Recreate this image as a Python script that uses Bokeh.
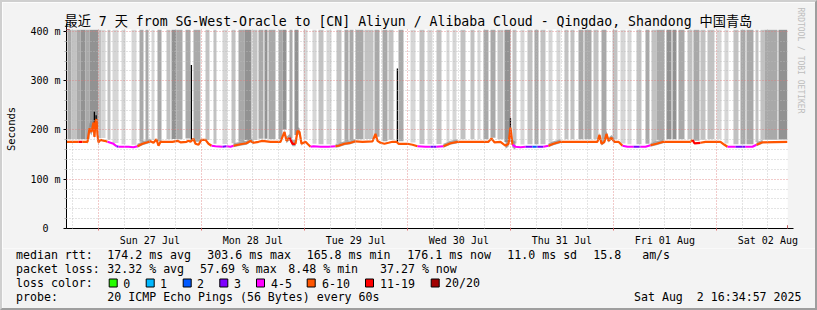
import math
import numpy as np
from bokeh.plotting import figure
from bokeh.models import FixedTicker, Arrow, NormalHead, Title, Range1d
from bokeh.layouts import column
from bokeh.core.properties import value
from bokeh.embed import file_html
from bokeh.resources import INLINE

# ---------------- data ----------------
TITLE = "最近 7 天 from SG-West-Oracle to [CN] Aliyun / Alibaba Cloud - Qingdao, Shandong 中国青岛"
WINDOW_HOURS = 168.0          # 7 days, hours since Sat Jul 26 16:35
FIRST_MIDNIGHT = 7.42         # Sun 27 Jul 00:00 in hours since window start
DAY_LABELS = ["Sun 27 Jul", "Mon 28 Jul", "Tue 29 Jul", "Wed 30 Jul",
              "Thu 31 Jul", "Fri 01 Aug", "Sat 02 Aug"]
Y_TICKS = [0, 100, 200, 300, 400]
Y_TICK_LABELS = ["0  ", "100 m", "200 m", "300 m", "400 m"]
Y_MAX = 404

# median rtt (ms) with loss count (of 20 pings); time = hours since window start
med_t = [0, 2.8, 3.73, 4.89, 5.36, 5.83, 6.29, 6.52, 6.76, 6.99,
         7.22, 7.46, 7.92, 8.85, 9.55, 10.25, 10.95, 11.65, 12.12, 14.45,
         15.61, 16.54, 17.71, 18.87, 19.57, 20.27, 20.97, 21.44, 21.9, 24.7,
         25.86, 26.56, 27.96, 28.43, 28.89, 29.59, 30.06, 30.76, 31.46, 32.39,
         33.09, 33.79, 34.72, 36.35, 37.28, 38.21, 38.91, 40.54, 41.94, 42.87,
         43.57, 44.74, 45.67, 47.53, 49.86, 50.79, 51.26, 51.96, 52.66, 53.36,
         53.82, 54.29, 54.76, 55.69, 56.15, 56.85, 57.55, 59.18, 61.05, 62.68,
         63.38, 64.77, 66.17, 67.34, 68.97, 71.3, 72.0, 72.46, 73.16, 74.09,
         75.03, 75.96, 76.89, 77.36, 78.29, 79.45, 80.62, 81.78, 83.65, 84.81,
         86.21, 87.84, 89.47, 91.1, 94.13, 98.33, 99.03, 99.72, 101.12, 102.29,
         102.99, 103.45, 103.92, 104.62, 105.78, 106.95, 108.58, 109.74, 111.14, 112.31,
         113.47, 115.1, 118.6, 122.09, 123.72, 124.19, 124.66, 125.35, 125.82, 126.29,
         126.99, 127.68, 128.62, 129.55, 130.71, 132.11, 133.74, 134.91, 136.07, 137.47,
         139.1, 145.39, 145.86, 146.32, 147.72, 148.89, 152.38, 153.31, 154.01, 155.88,
         158.21, 159.84, 160.77, 162.17, 168.0]
med_ms = [176, 176, 176, 176, 203, 196, 215, 186, 218, 222,
          190, 175, 180, 178, 176, 174, 172, 167, 166, 166,
          165, 167, 172, 175, 177, 174, 181, 168, 176, 176,
          178, 175, 176, 178, 176, 182, 172, 170, 180, 180,
          172, 168, 167, 166, 167, 166, 168, 171, 173, 178,
          174, 176, 178, 176, 176, 196, 178, 184, 172, 172,
          198, 196, 172, 176, 172, 166, 167, 166, 166, 167,
          168, 172, 174, 177, 176, 177, 192, 178, 174, 172,
          174, 176, 176, 172, 172, 172, 170, 167, 166, 166,
          166, 167, 173, 176, 176, 176, 183, 175, 176, 168,
          172, 205, 170, 166, 165, 166, 166, 166, 166, 168,
          172, 176, 176, 176, 176, 190, 172, 176, 192, 178,
          184, 176, 176, 168, 166, 166, 166, 166, 169, 172,
          176, 176, 180, 173, 174, 176, 176, 170, 166, 166,
          166, 166, 170, 175, 176]
med_loss = [7, 12, 7, 7, 7, 7, 7, 7, 7, 7,
            7, 7, 7, 7, 5, 5, 5, 3, 5, 5,
            5, 7, 7, 7, 7, 7, 7, 7, 7, 7,
            7, 7, 7, 7, 7, 7, 7, 7, 7, 7,
            7, 5, 5, 3, 5, 5, 7, 7, 7, 7,
            7, 7, 7, 7, 7, 7, 7, 12, 12, 7,
            7, 7, 7, 7, 7, 5, 5, 5, 5, 7,
            7, 7, 7, 7, 7, 7, 7, 7, 7, 7,
            7, 7, 7, 7, 7, 7, 7, 5, 5, 3,
            5, 7, 7, 7, 7, 7, 7, 7, 7, 7,
            7, 7, 5, 5, 5, 3, 2, 3, 5, 7,
            7, 7, 7, 7, 7, 7, 7, 7, 7, 7,
            7, 7, 7, 5, 5, 3, 5, 5, 7, 7,
            7, 7, 12, 12, 7, 7, 7, 7, 5, 3,
            5, 5, 7, 7, 7]

# dense rtt spikes (black smoke): time, top ms
spike_t = [6.5, 6.9, 29.1, 77.1, 103.45]
spike_top = [237, 230, 332, 325, 224]

# dark smoke hugging the median: start, end (hours), half spread (ms)
band_start = [4.9, 16.5, 38.9, 50.8, 62.7, 87.8, 102.3, 112.3, 124.2, 136.1, 160.8]
band_end = [7.5, 19.6, 43.6, 54.8, 67.3, 91.1, 104.6, 115.1, 127.7, 139.1, 162.2]
band_spread = [12, 5, 5, 8, 5, 5, 10, 5, 6, 5, 5]

# smoke stripes reaching the top of the graph: start, end (hours), density level 1..4
smoke_start = [0.23, 1.17, 2.33, 3.26, 4.43, 5.36, 7.46, 8.16, 9.55, 10.72,
               12.82, 15.15, 17.01, 18.41, 19.81, 21.2, 23.3, 24.47, 25.63, 27.73,
               29.59, 32.39, 34.25, 36.35, 38.45, 40.08, 41.47, 43.34, 44.74, 46.13,
               47.07, 49.4, 50.33, 51.96, 53.12, 55.22, 57.32, 58.72, 60.58, 62.91,
               64.77, 65.94, 67.34, 69.43, 71.76, 73.63, 75.03, 77.36, 80.15, 82.25,
               84.11, 86.21, 88.54, 89.94, 91.8, 94.13, 95.76, 97.16, 98.79, 100.42,
               102.05, 103.92, 105.78, 107.41, 109.04, 110.44, 112.31, 114.17, 116.03, 117.43,
               119.3, 120.69, 122.79, 124.66, 127.22, 129.08, 130.71, 132.81, 134.91, 136.31,
               137.47, 139.8, 141.2, 142.6, 144.7, 146.09, 147.72, 149.35, 151.45, 153.31,
               155.41, 157.04, 158.44, 160.54, 161.7, 162.63, 165.9]
smoke_end = [1.17, 2.33, 3.26, 4.43, 5.36, 7.46, 8.16, 9.09, 10.25, 12.12,
             13.75, 16.31, 17.94, 19.11, 20.5, 22.14, 24.23, 25.63, 27.03, 28.89,
             31.22, 33.32, 34.95, 37.51, 39.38, 41.47, 43.1, 44.5, 45.9, 46.83,
             48.7, 50.33, 51.26, 52.66, 54.06, 56.15, 58.25, 59.88, 61.75, 64.08,
             65.71, 66.87, 69.2, 71.53, 72.93, 74.79, 76.19, 78.52, 81.32, 83.41,
             85.28, 87.38, 89.24, 90.87, 92.97, 95.06, 96.46, 98.33, 99.96, 101.82,
             103.45, 104.85, 106.71, 108.58, 109.98, 111.61, 113.24, 115.1, 116.97, 118.36,
             120.46, 122.33, 123.96, 125.82, 128.38, 130.25, 131.65, 133.98, 135.84, 137.47,
             139.33, 140.97, 142.13, 144.0, 145.86, 147.49, 148.89, 150.98, 152.62, 154.25,
             156.58, 158.21, 160.07, 161.24, 162.63, 165.66, 168.0]
smoke_level = [3, 2, 3, 4, 3, 4, 2, 1, 2, 1,
               1, 1, 3, 3, 1, 3, 2, 4, 3, 3,
               3, 2, 2, 1, 2, 3, 4, 2, 3, 4,
               3, 3, 4, 3, 4, 1, 1, 2, 1, 2,
               3, 3, 3, 2, 3, 3, 2, 3, 1, 2,
               1, 2, 1, 1, 2, 2, 1, 3, 3, 2,
               4, 2, 1, 2, 3, 2, 1, 1, 2, 2,
               3, 3, 2, 3, 2, 1, 1, 2, 3, 2,
               3, 4, 4, 3, 2, 3, 2, 2, 1, 1,
               2, 3, 3, 2, 2, 3, 4]

# legend texts
LOSS_BINS = ["0", "1", "2", "3", "4-5", "6-10", "11-19", "20/20"]
LOSS_COLORS = ["#26ff00", "#00b8ff", "#0059ff", "#7e00ff", "#ff00ff", "#ff5500", "#ff0000", "#a10000"]
RTT_STATS = ["median rtt:", "174.2 ms avg", "303.6 ms max", "165.8 ms min", "176.1 ms now", "11.0 ms sd", "15.8   am/s"]
LOSS_STATS = ["packet loss:", "32.32 % avg", "57.69 % max", "8.48 % min", "37.27 % now"]
PROBE = ["probe:", "20 ICMP Echo Pings (56 Bytes) every 60s"]
STAMP = "Sat Aug  2 16:34:57 2025"

# ---------------- layout / style ----------------
EDGE = 2                       # 3-d frame around the whole image
W = 817 - 2 * EDGE
H_MAIN, H_LEG = 246, 60
FL, FR, FT, FB = 64, 28, 27, 19
FW = W - FL - FR
BG = "#f3f3f3"
MONO = "DejaVu Sans Mono, Noto Sans CJK SC"
SHADES = {1: "#d6d6d6", 2: "#c2c2c2", 3: "#a9a9a9", 4: "#929292"}
NBSP = "\u00a0"


def keep_spaces(s):
    # svg collapses runs of blanks; keep the monospace spacing
    return s.replace(" ", NBSP)


def loss_color(n):
    if n == 0:
        return LOSS_COLORS[0]
    if n <= 3:
        return LOSS_COLORS[n]
    if n <= 5:
        return LOSS_COLORS[4]
    if n <= 10:
        return LOSS_COLORS[5]
    if n <= 19:
        return LOSS_COLORS[6]
    return LOSS_COLORS[7]


p = figure(width=W, height=H_MAIN, x_range=(0, WINDOW_HOURS), y_range=(0, Y_MAX),
           output_backend="svg", toolbar_location=None,
           min_border_left=FL, min_border_right=FR, min_border_top=FT, min_border_bottom=FB,
           background_fill_color="white", border_fill_color=BG, outline_line_color=None)

XS = WINDOW_HOURS / FW
YS = Y_MAX / (H_MAIN - FT - FB)

# smoke stripes
s_start = np.array(smoke_start)
s_end = np.array(smoke_end)
centers = (s_start + s_end) / 2
bottoms = np.interp(centers, med_t, med_ms) + 5
p.quad(left=s_start, right=s_end, bottom=bottoms, top=Y_MAX,
       fill_color=[SHADES[l] for l in smoke_level], line_color=None)

# dark smoke around the median
mt = np.array(med_t)
mm = np.array(med_ms, dtype=float)
for b0, b1, sp in zip(band_start, band_end, band_spread):
    sel = (mt > b0) & (mt < b1)
    bx = np.concatenate([[b0], mt[sel], [b1]])
    by = np.concatenate([[np.interp(b0, mt, mm)], mm[sel], [np.interp(b1, mt, mm)]])
    p.varea(x=bx, y1=by - sp * 0.6, y2=by + sp, fill_color="#8c8c8c", fill_alpha=0.75)

# black spikes
sp_base = np.interp(spike_t, med_t, med_ms)
p.segment(x0=spike_t, y0=sp_base, x1=spike_t, y1=spike_top, line_color="black", line_width=1.3)

# median line coloured by loss
xs, ys, cs = [], [], []
i = 0
n = len(med_t)
while i < n - 1:
    c = loss_color(med_loss[i])
    j = i
    while j < n - 1 and loss_color(med_loss[j]) == c:
        j += 1
    xs.append(med_t[i:j + 1])
    ys.append(med_ms[i:j + 1])
    cs.append(c)
    i = j
p.multi_line(xs=xs, ys=ys, line_color=cs, line_width=2.2)

# axes
midnights = [FIRST_MIDNIGHT + 24 * k for k in range(7)]
noons = [m + 12 for m in midnights]
six_h = [FIRST_MIDNIGHT + 6 * k for k in range(-1, 28) if k % 4 != 0 and 0 < FIRST_MIDNIGHT + 6 * k < WINDOW_HOURS]

xa = p.xaxis[0]
xa.ticker = FixedTicker(ticks=noons, minor_ticks=midnights)
xa.major_label_overrides = {t: lab for t, lab in zip(noons, DAY_LABELS)}
xa.major_tick_line_color = None
xa.major_tick_out = 0
xa.major_tick_in = 0
xa.minor_tick_line_color = "#e07070"
xa.minor_tick_in = 0
xa.minor_tick_out = 2
xa.axis_line_color = "black"
xa.major_label_text_font = MONO
xa.major_label_text_font_size = "10px"
xa.major_label_text_color = "black"
xa.major_label_standoff = 4

ya = p.yaxis[0]
ya.ticker = FixedTicker(ticks=Y_TICKS, minor_ticks=[20 * k for k in range(1, 21) if k % 5])
ya.major_label_overrides = {t: keep_spaces(lab) for t, lab in zip(Y_TICKS, Y_TICK_LABELS)}
ya.major_tick_line_color = "black"
ya.major_tick_out = 3
ya.major_tick_in = 0
ya.minor_tick_line_color = "#b0b0b0"
ya.minor_tick_out = 2
ya.minor_tick_in = 0
ya.axis_line_color = "black"
ya.major_label_text_font = MONO
ya.major_label_text_font_size = "10px"
ya.major_label_text_color = "black"
ya.major_label_standoff = 3
ya.axis_label = "Seconds"
ya.axis_label_text_font = MONO
ya.axis_label_text_font_size = "10.5px"
ya.axis_label_text_font_style = "normal"
ya.axis_label_text_color = "black"
ya.axis_label_standoff = 10

# grids (drawn on top like rrdtool)
p.xgrid.ticker = FixedTicker(ticks=midnights, minor_ticks=six_h)
p.ygrid.ticker = FixedTicker(ticks=[100, 200, 300, 400], minor_ticks=[20 * k for k in range(1, 21) if k % 5])
for g in (p.xgrid[0], p.ygrid[0]):
    g.level = "overlay"
    g.grid_line_color = "#e07a7a"
    g.grid_line_alpha = 0.8
    g.grid_line_dash = "1 2"
    g.minor_grid_line_color = "#bbbbbb"
    g.minor_grid_line_alpha = 0.8
    g.minor_grid_line_dash = "1 2"

# axis arrows
p.add_layout(Arrow(x_start=WINDOW_HOURS, y_start=0, x_end=WINDOW_HOURS + 6 * XS, y_end=0,
                   line_color="black", line_width=1,
                   end=NormalHead(size=6, fill_color="#a00000", line_color="#a00000")))
p.add_layout(Arrow(x_start=0, y_start=Y_MAX, x_end=0, y_end=Y_MAX + 6 * YS,
                   line_color="black", line_width=1,
                   end=NormalHead(size=6, fill_color="#a00000", line_color="#a00000")))

# title (above) and rrdtool credit (right side)
p.title = Title(text=TITLE, align="left", offset=-2, standoff=1, text_font=MONO,
                text_font_size="13.2px", text_font_style="normal", text_color="black")
p.add_layout(Title(text="RRDTOOL / TOBI OETIKER", align="left", offset=-22, standoff=16,
                   text_font=MONO, text_font_size="8px", text_font_style="normal",
                   text_color="#bdbdbd"), "right")

# ---------------- legend area (page-coordinate figure) ----------------
Y0 = EDGE + H_MAIN  # page row where the legend figure starts
q = figure(width=W, height=H_LEG, x_range=Range1d(EDGE, EDGE + W), y_range=Range1d(Y0 + H_LEG, Y0),
           output_backend="svg", toolbar_location=None,
           min_border_left=0, min_border_right=0, min_border_top=0, min_border_bottom=0,
           x_axis_location=None, y_axis_location=None,
           background_fill_color=BG, border_fill_color=BG, outline_line_color=None)
q.grid.visible = False
for fig in (p, q):
    try:
        fig.frame_align = False
    except Exception:
        pass

tx, ty, tt, ta = [], [], [], []


def put(px, py, txt, align="left"):
    tx.append(px)
    ty.append(py)
    tt.append(keep_spaces(txt))
    ta.append(align)


for px, txt in zip([15.5, 106.8, 206.8, 306.2, 406.8, 506.8, 592.8], RTT_STATS):
    put(px, 254, txt)
for px, txt in zip([15.5, 106.8, 199.5, 287.8, 379.5], LOSS_STATS):
    put(px, 268, txt)
put(15.5, 282.5, "loss color:")
sq_left = [108.7, 145.7, 182.7, 219.3, 256, 306.7, 365, 430.7]
for lx, lab in zip([122.8, 159.5, 196.5, 233.5, 270.5, 321.5, 379.5, 444.5], LOSS_BINS):
    put(lx, 282.5, lab)
put(15.5, 296.5, PROBE[0])
put(106.8, 296.5, PROBE[1])
put(801, 296.5, STAMP, align="right")

q.text(x=tx, y=ty, text=tt, text_align=ta, text_baseline="middle",
       text_font=value(MONO), text_font_size=value("11.6px"), text_color="black")
q.quad(left=sq_left, right=[s + 8 for s in sq_left], top=[278.5] * 8, bottom=[286.5] * 8,
       fill_color=LOSS_COLORS, line_color="black", line_width=1)

layout = column(p, q, spacing=0)
layout.styles = {
    "border-top": f"{EDGE}px solid #cfcfcf",
    "border-left": f"{EDGE}px solid #cfcfcf",
    "border-right": f"{EDGE}px solid #9e9e9e",
    "border-bottom": f"{EDGE}px solid #9e9e9e",
}
open("out.html", "w").write(file_html(layout, INLINE))
